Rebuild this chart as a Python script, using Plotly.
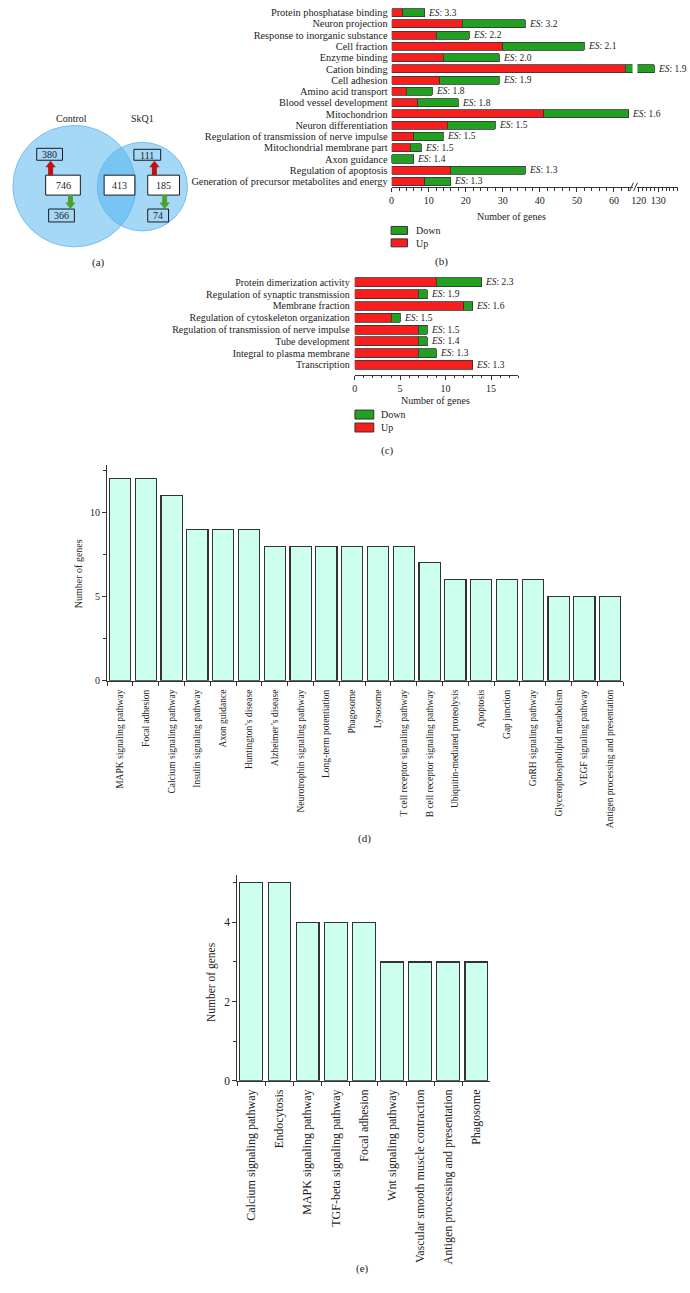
import plotly.graph_objects as go

W, H = 690, 1293
def fx(x): return x / W
def fy(y): return 1 - y / H

FONT = "Liberation Serif"
TXT = "#222222"
AX = "#333333"
RED = "#f71e1e"
GREEN = "#22a022"
MINT = "#ccffee"
EDGE = "#333333"

# ---------------- data ----------------
# (a) Venn diagram counts
venn_sets = ["Control", "SkQ1"]
venn_control_only = 746
venn_control_up = 380
venn_control_down = 366
venn_common = 413
venn_skq1_only = 185
venn_skq1_up = 111
venn_skq1_down = 74

# (b) GO terms
b_terms = ["Protein phosphatase binding", "Neuron projection", "Response to inorganic substance",
           "Cell fraction", "Enzyme binding", "Cation binding", "Cell adhesion",
           "Amino acid transport", "Blood vessel development", "Mitochondrion",
           "Neuron differentiation", "Regulation of transmission of nerve impulse",
           "Mitochondrial membrane part", "Axon guidance", "Regulation of apoptosis",
           "Generation of precursor metabolites and energy"]
b_up = [3, 19, 12, 30, 14, 63, 13, 4, 7, 41, 15, 6, 5, 0, 16, 9]
b_down = [6, 17, 9, 22, 15, 65, 16, 7, 11, 23, 13, 8, 3, 6, 20, 7]
b_es = ["3.3", "3.2", "2.2", "2.1", "2.0", "1.9", "1.9", "1.8", "1.8", "1.6",
        "1.5", "1.5", "1.5", "1.4", "1.3", "1.3"]

# (c) GO terms
c_terms = ["Protein dimerization activity", "Regulation of synaptic transmission",
           "Membrane fraction", "Regulation of cytoskeleton organization",
           "Regulation of transmission of nerve impulse", "Tube development",
           "Integral to plasma membrane", "Transcription"]
c_up = [9, 7, 12, 4, 7, 7, 7, 13]
c_down = [5, 1, 1, 1, 1, 1, 2, 0]
c_es = ["2.3", "1.9", "1.6", "1.5", "1.5", "1.4", "1.3", "1.3"]

# (d) KEGG pathways
d_paths = ["MAPK signaling pathway", "Focal adhesion", "Calcium signaling pathway",
           "Insulin signaling pathway", "Axon guidance", "Huntington’s disease",
           "Alzheimer’s disease", "Neurotrophin signaling pathway", "Long-term potentiation",
           "Phagosome", "Lysosome", "T cell receptor signaling pathway",
           "B cell receptor signaling pathway", "Ubiquitin-mediated proteolysis", "Apoptosis",
           "Gap junction", "GnRH signaling pathway", "Glycerophospholipid metabolism",
           "VEGF signaling pathway", "Antigen processing and presentation"]
d_genes = [12, 12, 11, 9, 9, 9, 8, 8, 8, 8, 8, 8, 7, 6, 6, 6, 6, 5, 5, 5]

# (e) KEGG pathways
e_paths = ["Calcium signaling pathway", "Endocytosis", "MAPK signaling pathway",
           "TGF-beta signaling pathway", "Focal adhesion", "Wnt signaling pathway",
           "Vascular smooth muscle contraction", "Antigen processing and presentation",
           "Phagosome"]
e_genes = [5, 5, 4, 4, 4, 3, 3, 3, 3]

# ---------------- figure ----------------
fig = go.Figure()

# (b) bars on both halves of the broken axis
for xa in ["x", "x2"]:
    fig.add_trace(go.Bar(y=b_terms, x=b_up, orientation="h", xaxis=xa, yaxis="y",
                         marker=dict(color=RED, line=dict(color=EDGE, width=0.8)),
                         width=0.72, name="Up", showlegend=False, hoverinfo="x+y"))
    fig.add_trace(go.Bar(y=b_terms, x=b_down, orientation="h", xaxis=xa, yaxis="y",
                         marker=dict(color=GREEN, line=dict(color=EDGE, width=0.8)),
                         width=0.72, name="Down", showlegend=False, hoverinfo="x+y"))

# (c)
fig.add_trace(go.Bar(y=c_terms, x=c_up, orientation="h", xaxis="x3", yaxis="y2",
                     marker=dict(color=RED, line=dict(color=EDGE, width=0.8)),
                     width=0.76, name="Up", showlegend=False))
fig.add_trace(go.Bar(y=c_terms, x=c_down, orientation="h", xaxis="x3", yaxis="y2",
                     marker=dict(color=GREEN, line=dict(color=EDGE, width=0.8)),
                     width=0.76, name="Down", showlegend=False))

# (d)
fig.add_trace(go.Bar(x=d_paths, y=d_genes, xaxis="x4", yaxis="y3",
                     marker=dict(color=MINT, line=dict(color=EDGE, width=1.1)),
                     width=0.82, showlegend=False))
# (e)
fig.add_trace(go.Bar(x=e_paths, y=e_genes, xaxis="x5", yaxis="y4",
                     marker=dict(color=MINT, line=dict(color=EDGE, width=1.1)),
                     width=0.81, showlegend=False))

tickfont = dict(family=FONT, size=10, color=TXT)
common_x = dict(showgrid=False, zeroline=False, showline=True, linecolor=AX, linewidth=1,
                ticks="outside", ticklen=4, tickcolor=AX, tickfont=tickfont)

fig.update_layout(
    width=W, height=H, margin=dict(l=0, r=0, t=0, b=0),
    paper_bgcolor="white", plot_bgcolor="rgba(0,0,0,0)",
    barmode="stack", font=dict(family=FONT, color=TXT, size=10),
    xaxis=dict(domain=[fx(389), fx(632)], range=[0, 65], anchor="y", tick0=0, dtick=10,
               minor=dict(dtick=2, ticklen=2.5, ticks="outside", tickcolor=AX), **common_x),
    xaxis2=dict(domain=[fx(637), fx(678)], range=[119.3, 140.2], anchor="y",
                tickvals=[120, 130],
                minor=dict(dtick=2, ticklen=2.5, ticks="outside", tickcolor=AX), **common_x),
    yaxis=dict(domain=[fy(188), fy(7)], anchor="x", type="category", categoryorder="array",
               categoryarray=b_terms, tickmode="array", tickvals=b_terms,
               range=[15.5, -0.5], showline=False, showgrid=False,
               zeroline=False, ticks="", ticklabelstandoff=3,
               tickfont=dict(family=FONT, size=10.3, color=TXT)),
    xaxis3=dict(domain=[fx(351.7), fx(516.8)], range=[0, 18], anchor="y2", tick0=0, dtick=5,
                minor=dict(dtick=1, ticklen=2.5, ticks="outside", tickcolor=AX), **common_x),
    yaxis2=dict(domain=[fy(376.7), fy(277.8)], anchor="x3", type="category",
                categoryorder="array", categoryarray=c_terms, tickmode="array",
                tickvals=c_terms, range=[7.85, -0.5], showline=False, showgrid=False,
                zeroline=False, ticks="", ticklabelstandoff=4, tickfont=tickfont),
    xaxis4=dict(domain=[fx(102), fx(622.5)], anchor="y3", type="category",
                categoryorder="array", categoryarray=d_paths, range=[-0.5, 19.5],
                tickangle=-90, tickson="boundaries", showgrid=False, zeroline=False,
                showline=True, linecolor=AX, linewidth=1, ticks="outside", ticklen=4,
                tickcolor=AX, ticklabelstandoff=4,
                tickfont=dict(family=FONT, size=9.5, color=TXT)),
    yaxis3=dict(domain=[fy(684), fy(467.4)], anchor="x4", range=[0, 12.8], tick0=0, dtick=5,
                showgrid=False, zeroline=False, showline=True, linecolor=AX, linewidth=1,
                ticks="outside", ticklen=4, tickcolor=AX, tickfont=tickfont,
                minor=dict(dtick=2.5, ticklen=3, ticks="outside", tickcolor=AX)),
    xaxis5=dict(domain=[fx(233.3), fx(488.7)], anchor="y4", type="category",
                categoryorder="array", categoryarray=e_paths, range=[-0.5, 8.5],
                tickangle=-90, tickson="boundaries", showgrid=False, zeroline=False,
                showline=True, linecolor=AX, linewidth=1, ticks="outside", ticklen=4,
                tickcolor=AX, ticklabelstandoff=3,
                tickfont=dict(family=FONT, size=12, color=TXT)),
    yaxis4=dict(domain=[fy(1085.7), fy(879)], anchor="x5", range=[0, 5.2], tick0=0, dtick=2,
                showgrid=False, zeroline=False, showline=True, linecolor=AX, linewidth=1,
                ticks="outside", ticklen=4, tickcolor=AX,
                tickfont=dict(family=FONT, size=11.5, color=TXT),
                minor=dict(dtick=1, ticklen=3, ticks="outside", tickcolor=AX)),
)

shapes = []
ann = []

def text(x, y, s, size=10, xanchor="center", angle=0):
    ann.append(dict(x=fx(x), y=fy(y), xref="paper", yref="paper", text=s, showarrow=False,
                    xanchor=xanchor, yanchor="middle", textangle=angle,
                    font=dict(family=FONT, size=size, color=TXT)))

def rect(x0, y0, x1, y1, fill, line=EDGE, width=1):
    shapes.append(dict(type="rect", xref="paper", yref="paper", x0=fx(x0), x1=fx(x1),
                       y0=fy(y1), y1=fy(y0), fillcolor=fill, line=dict(color=line, width=width)))

# ---- (a) Venn ----
shapes.append(dict(type="circle", xref="paper", yref="paper", x0=fx(7), x1=fx(131),
                   y0=fy(248), y1=fy(126), fillcolor="rgba(75,177,239,0.5)",
                   line=dict(color="rgba(110,185,235,0.9)", width=1)))
shapes.append(dict(type="circle", xref="paper", yref="paper", x0=fx(92), x1=fx(183),
                   y0=fy(232), y1=fy(143), fillcolor="rgba(75,177,239,0.5)",
                   line=dict(color="rgba(110,185,235,0.9)", width=1)))
boxes = [
    ((31, 149, 57, 161), venn_control_up, "rgba(0,0,0,0)"),
    ((40, 176, 75, 196), venn_control_only, "white"),
    ((43, 210, 69, 223), venn_control_down, "rgba(0,0,0,0)"),
    ((99, 176, 130, 196), venn_common, "white"),
    ((129, 150, 156, 161), venn_skq1_up, "rgba(0,0,0,0)"),
    ((143, 176, 175, 196), venn_skq1_only, "white"),
    ((143, 210, 164, 223), venn_skq1_down, "rgba(0,0,0,0)"),
]
for (x0, y0, x1, y1), val, fill in boxes:
    rect(x0, y0, x1, y1, fill, line="#1a1a1a", width=1)
    text((x0 + x1) / 2, (y0 + y1) / 2 + 0.5, str(val), size=10)

def arrow(xc, y_from, y_to, color, shaft=5, head=10.5, head_len=6.5):
    sgn = -1 if y_to < y_from else 1
    hb = y_to - sgn * head_len
    pts = [(xc - shaft / 2, y_from), (xc - shaft / 2, hb), (xc - head / 2, hb), (xc, y_to),
           (xc + head / 2, hb), (xc + shaft / 2, hb), (xc + shaft / 2, y_from)]
    path = "M " + " L ".join(f"{fx(a):.5f},{fy(b):.5f}" for a, b in pts) + " Z"
    shapes.append(dict(type="path", xref="paper", yref="paper", path=path,
                       fillcolor=color, line=dict(width=0)))

arrow(45, 176, 161.5, "#c0100f")
arrow(65, 196, 210, "#4ca32a")
arrow(149.7, 176, 161.5, "#c0100f")
arrow(160, 196, 210, "#4ca32a")
text(66, 119, venn_sets[0], size=10)
text(138, 119, venn_sets[1], size=10)
text(93, 264, "(a)", size=11)

# ---- (b) annotations ----
for i, term in enumerate(b_terms):
    total = b_up[i] + b_down[i]
    xa = "x2" if total > 65 else "x"
    ann.append(dict(x=total, y=term, xref=xa, yref="y", text=f"<i>ES</i>: {b_es[i]}",
                    showarrow=False, xanchor="left", yanchor="middle", xshift=1.5,
                    font=dict(family=FONT, size=9.5, color=TXT)))
# axis break marks
for dx in (0, 4):
    shapes.append(dict(type="line", xref="paper", yref="paper", x0=fx(629 + dx), y0=fy(192),
                       x1=fx(633 + dx), y1=fy(183.5), line=dict(color=AX, width=1)))
text(510, 217.7, "Number of genes", size=10)
rect(388.5, 227.5, 405, 235.5, GREEN)
rect(388.5, 240, 405, 248, RED)
text(412, 231.5, "Down", size=10, xanchor="left")
text(412, 244.5, "Up", size=10, xanchor="left")
text(439, 263, "(b)", size=11)

# ---- (c) annotations ----
for i, term in enumerate(c_terms):
    total = c_up[i] + c_down[i]
    ann.append(dict(x=total, y=term, xref="x3", yref="y2", text=f"<i>ES</i>: {c_es[i]}",
                    showarrow=False, xanchor="left", yanchor="middle", xshift=1.5,
                    font=dict(family=FONT, size=9.5, color=TXT)))
text(433, 402.7, "Number of genes", size=10)
rect(352, 412, 371, 421, GREEN)
rect(352, 425, 371, 434, RED)
text(376, 416.5, "Down", size=10, xanchor="left")
text(376, 429.8, "Up", size=10, xanchor="left")
text(385, 452.7, "(c)", size=11)

# ---- (d) ----
text(72.5, 576, "Number of genes", size=10, angle=-90)
text(362, 842, "(d)", size=11)

# ---- (e) ----
text(206.7, 986.7, "Number of genes", size=11.5, angle=-90)
text(360, 1274, "(e)", size=11)

fig.update_layout(shapes=shapes, annotations=ann)

fig.write_html("out.html", config={"displayModeBar": False},
               post_script="document.body.style.margin='0';")
